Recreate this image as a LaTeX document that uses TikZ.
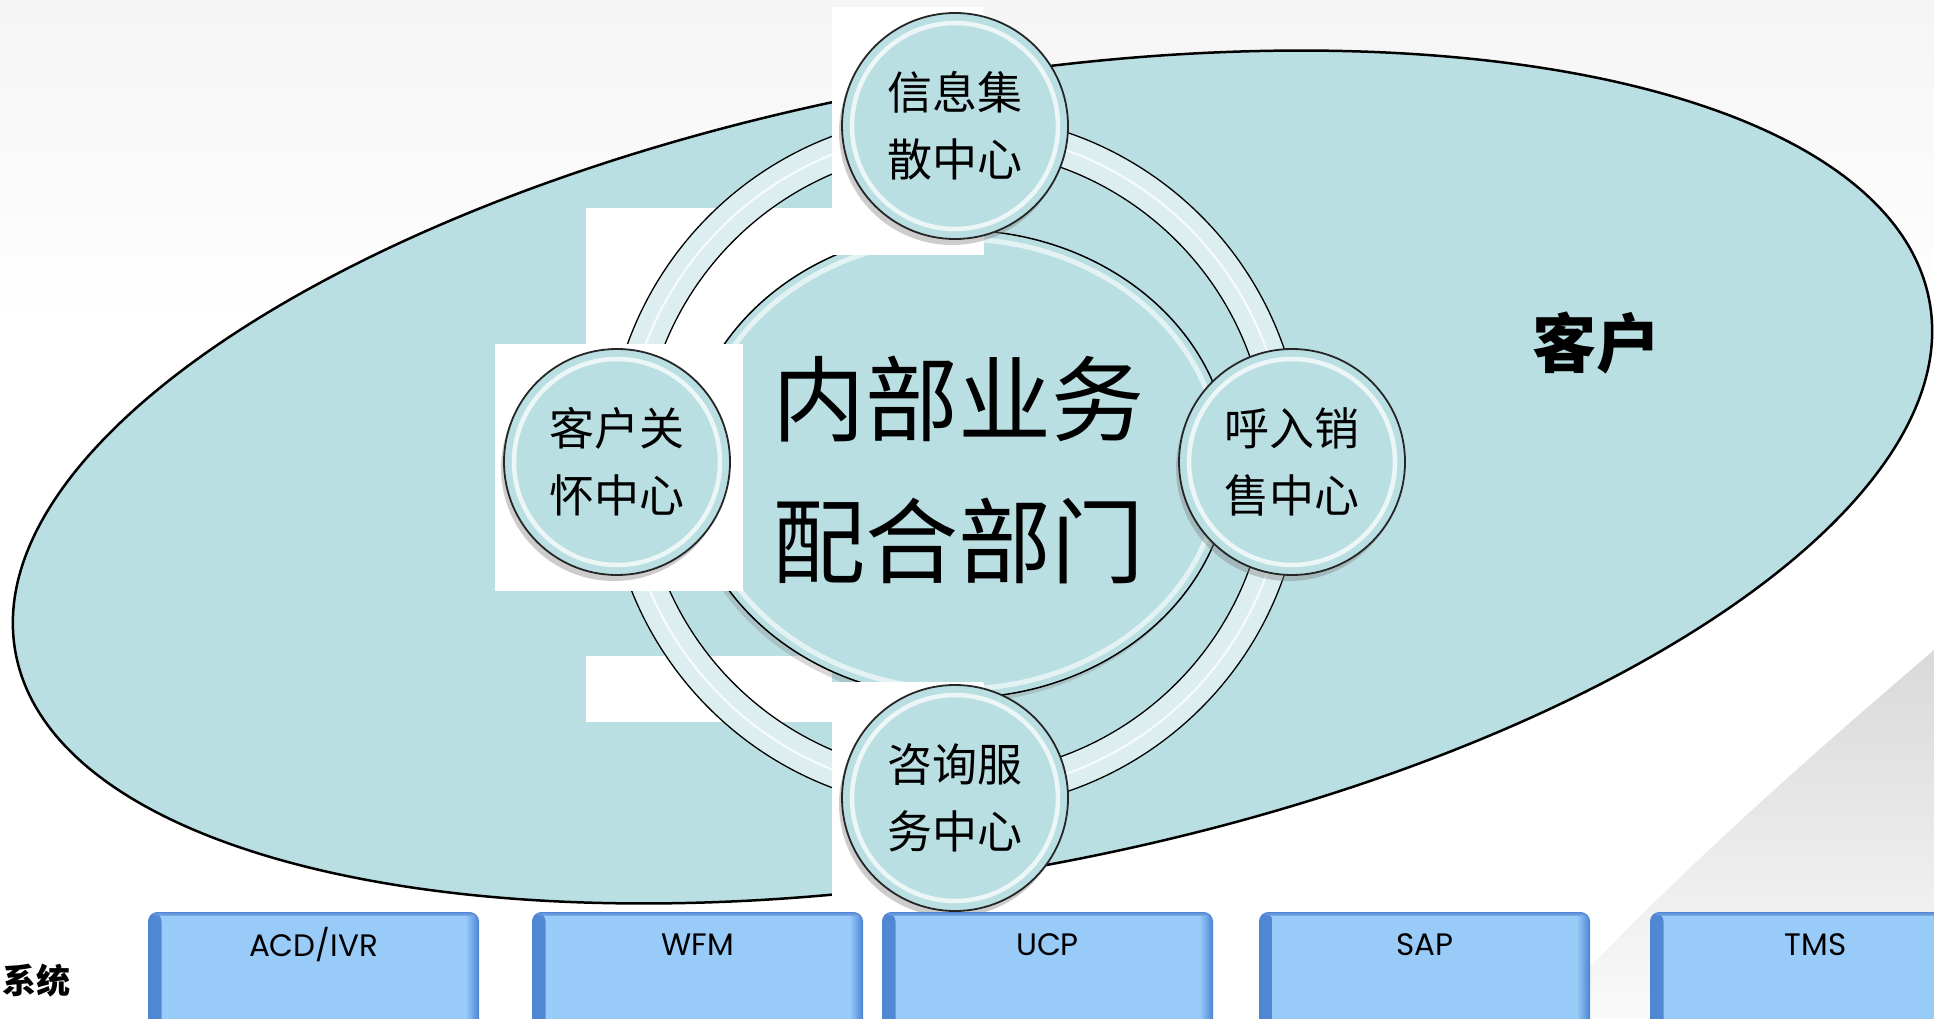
\documentclass[tikz,border=0pt]{standalone}
\usepackage{fontspec}
\newfontfamily\cjk{Noto Sans CJK SC}
\newfontfamily\boxfont{Poppins}
\usetikzlibrary{shapes.geometric,shadows}
\definecolor{ellfill}{HTML}{BADFE3}
\definecolor{bandfill}{HTML}{DDEEF1}
\definecolor{boxfill}{HTML}{99CBF9}
\definecolor{boxedge}{HTML}{4E86D4}
\tikzset{
  smallc/.style={circle, draw=black!85, line width=1.8pt, fill=ellfill,
    minimum size=226pt, inner sep=0pt, align=center,
    font=\cjk\fontsize{45}{67}\selectfont,
    drop shadow={opacity=0.4, shadow xshift=-3pt, shadow yshift=-6pt},
    path picture={\draw[white, opacity=0.75, line width=4.5pt]
      (path picture bounding box.center) circle[radius=103pt];}},
  sysbox/.style={draw=boxedge, line width=1pt, fill=boxfill, rounded corners=9pt,
    anchor=north west, minimum width=330pt, minimum height=140pt, inner sep=0pt,
    path picture={
      \shade[left color=boxedge, right color=boxfill]
        (path picture bounding box.south west) rectangle ([xshift=13pt]path picture bounding box.north west);
      \shade[left color=boxfill, right color=boxedge]
        ([xshift=-13pt]path picture bounding box.south east) rectangle (path picture bounding box.north east);
      \fill[boxedge!85] (path picture bounding box.north west) rectangle ([yshift=-3pt]path picture bounding box.north east);}},
  boxtxt/.style={font=\boxfont\fontsize{31}{31}\selectfont, inner sep=0pt},
  whiterect/.style={fill=white}
}
\begin{document}
\begin{tikzpicture}[x=1pt,y=-1pt,line join=round]
\useasboundingbox (0,0) rectangle (1934,1019);
\clip (0,0) rectangle (1934,1019);
% background
\fill[white] (0,0) rectangle (1934,1019);
\shade[top color=black!4, bottom color=white] (0,0) rectangle (1934,330);
\shade[top color=black!15, bottom color=black!2]
  (1934,650) .. controls (1800,765) and (1680,870) .. (1540,1019) -- (1934,1019) -- cycle;
% customer ellipse
\node[ellipse, draw, line width=2.5pt, fill=ellfill, rotate=10.4,
  minimum width=1946pt, minimum height=790pt] (cust) at (972.5,477) {};
\node[font=\cjk\bfseries\fontsize{64}{64}\selectfont] (custlabel) at (1596,343) {客户};
% white patches under the ring
\fill[whiterect] (586,208) rectangle (900,345);
\fill[whiterect] (586,656) rectangle (832,722);
% ring band
\fill[bandfill, even odd rule] (955,462) circle[radius=348pt] (955,462) circle[radius=313pt];
\draw[white, opacity=0.8, line width=2pt] (955,462) circle[radius=331pt];
\draw[line width=1.3pt] (955,462) circle[radius=348pt];
\draw[line width=1.3pt] (955,462) circle[radius=313pt];
% core circle
\node[ellipse, draw, line width=1.5pt, fill=ellfill, minimum width=544pt, minimum height=468pt,
  drop shadow={opacity=0.3, shadow xshift=-3pt, shadow yshift=-5pt}] (core) at (958,464) {};
\draw[white, opacity=0.6, line width=5pt] (958,464) ellipse[x radius=263pt, y radius=225pt];
% white patches over the ring
\fill[whiterect] (832,7) rectangle (984,255);
\fill[whiterect] (495,344) rectangle (743,591);
\fill[whiterect] (832,682) rectangle (984,905);
\node[align=center, font=\cjk\fontsize{93}{142}\selectfont] (coretxt) at (958,470) {内部业务\\配合部门};
% four centres
\node[smallc] (info) at (955,126) {信息集\\散中心};
\node[smallc] (care) at (617,462) {客户关\\怀中心};
\node[smallc] (sale) at (1292,462) {呼入销\\售中心};
\node[smallc] (cons) at (955,798) {咨询服\\务中心};
% systems row
\node[anchor=west, inner sep=0pt, font=\cjk\bfseries\fontsize{34}{34}\selectfont] (syslabel) at (2,981) {系统};
\node[sysbox] (b1) at (148,912) {};
\node[sysbox] (b2) at (532,912) {};
\node[sysbox] (b3) at (882,912) {};
\node[sysbox] (b4) at (1259,912) {};
\node[sysbox] (b5) at (1650,912) {};
\node[boxtxt] (t1) at ([yshift=-33pt]b1.north) {ACD/IVR};
\node[boxtxt] (t2) at ([yshift=-33pt]b2.north) {WFM};
\node[boxtxt] (t3) at ([yshift=-33pt]b3.north) {UCP};
\node[boxtxt] (t4) at ([yshift=-33pt]b4.north) {SAP};
\node[boxtxt] (t5) at ([yshift=-33pt]b5.north) {TMS};
\end{tikzpicture}
\end{document}
